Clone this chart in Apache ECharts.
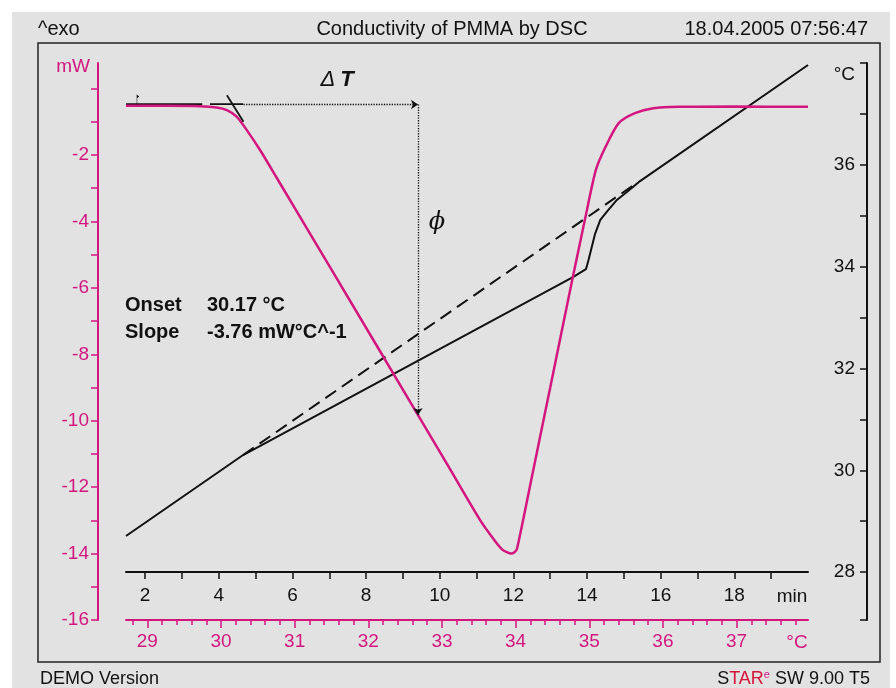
<!DOCTYPE html>
<html>
<head>
<meta charset="utf-8">
<script src="https://cdn.jsdelivr.net/npm/echarts@6/dist/echarts.min.js"></script>
<style>
  html, body { margin: 0; padding: 0; background: #fff; }
  #chart { width: 896px; height: 688px; }
</style>
</head>
<body>
<div id="chart"></div>
<script>
// tick values / labels
const timeTicks = [2, 3, 4, 5, 6, 7, 8, 9, 10, 11, 12, 13, 14, 15, 16, 17, 18, 19];
const timeLabels = [2, 4, 6, 8, 10, 12, 14, 16, 18];
const progTempMajor = [29, 30, 31, 32, 33, 34, 35, 36, 37];
const progTempMinor = [28.8, 29.2, 29.4, 29.6, 29.8, 30.2, 30.4, 30.6, 30.8, 31.2, 31.4, 31.6, 31.8,
  32.2, 32.4, 32.6, 32.8, 33.2, 33.4, 33.6, 33.8, 34.2, 34.4, 34.6, 34.8, 35.2, 35.4, 35.6, 35.8,
  36.2, 36.4, 36.6, 36.8, 37.2, 37.4, 37.6, 37.8];
const mwTicks = [-16, -15, -14, -13, -12, -11, -10, -9, -8, -7, -6, -5, -4, -3, -2, -1, 0];
const mwLabels = [-16, -14, -12, -10, -8, -6, -4, -2];
const tempTicks = [27.06, 28, 29, 30, 31, 32, 33, 34, 35, 36, 37, 38];
const tempLabels = [28, 30, 32, 34, 36];

// DSC heat flow (mW) vs time (min)
const dscTime = [1.48, 2.5, 3.49, 3.94, 4.22, 4.49, 4.76, 5.12, 5.58, 7.0, 9.41, 10.28, 11.1, 11.5, 11.7,
  11.83, 11.93, 12.03, 12.1, 12.5, 13.0, 13.6, 13.97, 14.24, 14.5, 14.86, 15.3,
  15.8, 16.5, 18.0, 20.0];
const dscMW = [-0.52, -0.52, -0.53, -0.57, -0.65, -0.85, -1.25, -1.85, -2.70, -5.34, -9.83, -11.46, -13.0,
  -13.62, -13.88, -13.96, -14.0, -13.96, -13.85, -11.7, -9.0, -5.75, -3.8, -2.45,
  -1.76, -1.04, -0.74, -0.59, -0.55, -0.54, -0.55];

// sample temperature (°C) vs time
const sampleTime = [1.48, 4.66, 13.63, 13.97, 14.04, 14.13, 14.22, 14.36, 14.54, 14.81, 15.09, 15.4, 20.0];
const sampleTemp = [28.71, 30.30, 33.8, 33.95, 34.13, 34.39, 34.65, 34.92, 35.08, 35.31, 35.47, 35.66, 37.96];

// program temperature (dashed extrapolation)
const progTime = [4.66, 15.3];
const progTemp = [30.30, 35.62];

// evaluation lines
const baseTime = [1.48, 3.55, '-', 3.76, 4.66];
const baseMW = [-0.47, -0.47, '-', -0.47, -0.47];
const tangTime = [4.22, 4.67];
const tangMW = [-0.2, -1.0];
const onsetTime = 4.67, stepTime = 9.41, levelMW = -0.48, stepMW = -9.83;
const flagTime = 1.75;

const PINK = '#d3177f';
const INK = '#111';
const FONT = 'Liberation Sans, Arial, sans-serif';

const pairs = (xs, ys) => xs.map((x, i) => (x === '-' ? '-' : [x, ys[i]]));

const chart = echarts.init(document.getElementById('chart'));

const option = {
  animation: false,
  backgroundColor: '#fff',
  grid: { left: 126, right: 88, top: 63, bottom: 68 },
  xAxis: [
    {
      type: 'value', min: 1.48, max: 20, position: 'bottom', offset: -48,
      axisLine: { onZero: false, lineStyle: { color: INK, width: 2 } },
      axisTick: { customValues: timeTicks, length: 7, lineStyle: { color: INK, width: 1.5 } },
      axisLabel: { customValues: timeLabels, color: INK, fontSize: 19, fontFamily: FONT, margin: 14 },
      splitLine: { show: false }
    },
    {
      type: 'value', min: 28.71, max: 37.97, position: 'bottom', offset: 0,
      axisLine: { onZero: false, lineStyle: { color: PINK, width: 2 } },
      axisTick: { customValues: progTempMajor, length: 8, lineStyle: { color: PINK, width: 1.5 } },
      axisLabel: { customValues: progTempMajor, color: PINK, fontSize: 19, fontFamily: FONT, margin: 12 },
      splitLine: { show: false }
    },
    {
      type: 'value', min: 28.71, max: 37.97, position: 'bottom', offset: 0,
      axisLine: { show: false, onZero: false },
      axisTick: { customValues: progTempMinor, length: 5, lineStyle: { color: PINK, width: 1.5 } },
      axisLabel: { show: false },
      splitLine: { show: false }
    }
  ],
  yAxis: [
    {
      type: 'value', min: -16, max: 0.77, position: 'left', offset: 28,
      axisLine: { show: true, onZero: false, lineStyle: { color: PINK, width: 2 } },
      axisTick: { show: true, customValues: mwTicks, length: 7, lineStyle: { color: PINK, width: 1.5 } },
      axisLabel: { customValues: mwLabels, color: PINK, fontSize: 19, fontFamily: FONT, margin: 9 },
      splitLine: { show: false }
    },
    {
      type: 'value', min: 27.06, max: 38, position: 'right', offset: 59,
      axisLine: { show: true, onZero: false, lineStyle: { color: INK, width: 2 } },
      axisTick: { show: true, inside: true, customValues: tempTicks, length: 7, lineStyle: { color: INK, width: 1.5 } },
      axisLabel: { inside: true, customValues: tempLabels, color: INK, fontSize: 19, fontFamily: FONT, margin: 12 },
      splitLine: { show: false }
    }
  ],
  series: [
    {
      name: 'program', type: 'line', xAxisIndex: 0, yAxisIndex: 1, showSymbol: false, silent: true,
      data: pairs(progTime, progTemp),
      lineStyle: { color: INK, width: 2, type: [13, 7] }, z: 3
    },
    {
      name: 'sample', type: 'line', xAxisIndex: 0, yAxisIndex: 1, showSymbol: false, silent: true,
      data: pairs(sampleTime, sampleTemp),
      lineStyle: { color: INK, width: 2 }, z: 3
    },
    {
      name: 'baseline', type: 'line', xAxisIndex: 0, yAxisIndex: 0, showSymbol: false, silent: true,
      data: pairs(baseTime, baseMW), connectNulls: false,
      lineStyle: { color: INK, width: 1.8 }, z: 3,
      markPoint: {
        silent: true, label: { show: false },
        symbol: 'path://M0 0 L5 2 L0 4 Z M0 0 L1 0 L1 10 L0 10 Z',
        symbolSize: [5, 10], symbolKeepAspect: true, symbolOffset: [2, -5],
        itemStyle: { color: INK },
        data: [{ coord: [flagTime, levelMW] }]
      }
    },
    {
      name: 'tangent', type: 'line', xAxisIndex: 0, yAxisIndex: 0, showSymbol: false, silent: true,
      data: pairs(tangTime, tangMW),
      lineStyle: { color: INK, width: 1.8 }, z: 3
    },
    {
      name: 'DSC', type: 'line', xAxisIndex: 0, yAxisIndex: 0, showSymbol: false, silent: true,
      smooth: 0.25,
      data: pairs(dscTime, dscMW),
      lineStyle: { color: PINK, width: 2.5 }, z: 4,
      markLine: {
        silent: true, symbol: ['none', 'arrow'], symbolSize: 7,
        label: { show: false },
        lineStyle: { type: 'dotted', color: INK, width: 1.3 },
        data: [
          [{ coord: [onsetTime, levelMW] }, { coord: [stepTime, levelMW] }],
          [{ coord: [stepTime, levelMW] }, { coord: [stepTime, stepMW] }]
        ]
      }
    }
  ],
  graphic: [
    { type: 'rect', z: -100, shape: { x: 12, y: 12, width: 878, height: 676 }, style: { fill: '#e2e2e2' } },
    { type: 'rect', z: -99, shape: { x: 38, y: 43, width: 842, height: 619 },
      style: { fill: 'none', stroke: '#222', lineWidth: 1.5 } },
    { type: 'text', x: 38, y: 29, style: { text: '^exo', font: '20px ' + FONT, fill: INK, verticalAlign: 'middle' } },
    { type: 'text', x: 452, y: 29, style: { text: 'Conductivity of PMMA by DSC', font: '20px ' + FONT, fill: INK, align: 'center', verticalAlign: 'middle' } },
    { type: 'text', x: 868, y: 29, style: { text: '18.04.2005 07:56:47', font: '20px ' + FONT, fill: INK, align: 'right', verticalAlign: 'middle' } },
    { type: 'text', x: 90, y: 67, style: { text: 'mW', font: '19px ' + FONT, fill: PINK, align: 'right', verticalAlign: 'middle' } },
    { type: 'text', x: 855, y: 75, style: { text: '°C', font: '19px ' + FONT, fill: INK, align: 'right', verticalAlign: 'middle' } },
    { type: 'text', x: 792, y: 597, style: { text: 'min', font: '19px ' + FONT, fill: INK, align: 'center', verticalAlign: 'middle' } },
    { type: 'text', x: 797, y: 643, style: { text: '°C', font: '19px ' + FONT, fill: PINK, align: 'center', verticalAlign: 'middle' } },
    { type: 'text', x: 337, y: 80, style: {
      text: '{d|Δ}{t|T}', align: 'center', verticalAlign: 'middle',
      rich: { d: { font: 'italic 22px ' + FONT, fill: INK, padding: [0, 5, 0, 0] }, t: { font: 'italic bold 22px ' + FONT, fill: INK } } } },
    { type: 'text', x: 437, y: 223, style: { text: 'ϕ', font: 'italic 24px DejaVu Serif, serif', fill: INK, align: 'center', verticalAlign: 'middle' } },
    { type: 'text', x: 125, y: 305, style: { text: 'Onset', font: 'bold 20px ' + FONT, fill: INK, verticalAlign: 'middle' } },
    { type: 'text', x: 207, y: 305, style: { text: '30.17 °C', font: 'bold 20px ' + FONT, fill: INK, verticalAlign: 'middle' } },
    { type: 'text', x: 125, y: 332, style: { text: 'Slope', font: 'bold 20px ' + FONT, fill: INK, verticalAlign: 'middle' } },
    { type: 'text', x: 207, y: 332, style: { text: '-3.76 mW°C^-1', font: 'bold 20px ' + FONT, fill: INK, verticalAlign: 'middle' } },
    { type: 'text', x: 40, y: 679, style: { text: 'DEMO Version', font: '18px ' + FONT, fill: INK, verticalAlign: 'middle' } },
    { type: 'text', x: 870, y: 679, style: {
      text: '{k|S}{r|TAR}{e|e}{k| SW 9.00 T5}', align: 'right', verticalAlign: 'middle',
      rich: {
        k: { font: '18px ' + FONT, fill: INK },
        r: { font: '18px ' + FONT, fill: '#d4143a' },
        e: { font: '11px ' + FONT, fill: PINK, verticalAlign: 'top', padding: [0, 0, 8, 0] }
      } } }
  ]
};

chart.setOption(option);
</script>
</body>
</html>
